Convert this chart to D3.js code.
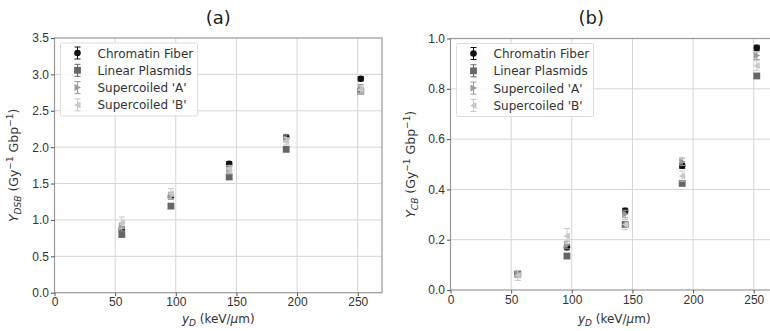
<!DOCTYPE html>
<html>
<head>
<meta charset="utf-8">
<script src="https://cdn.jsdelivr.net/npm/d3@7"></script>
<style>
  body { margin: 0; background: #fff; }
  svg { display: block; font-family: "DejaVu Sans", sans-serif; }
  .grid line { stroke: #d6d6d6; stroke-width: 1; }
  .tick text { fill: #333; font-size: 12px; }
  .tick line { stroke: #555; }
</style>
</head>
<body>
<svg id="chart" width="770" height="331"></svg>
<script>
// LET values (keV/um)
const yD = [55.5, 96, 144, 191, 252.5];

const seriesNames = ['Chromatin Fiber', 'Linear Plasmids', "Supercoiled 'A'", "Supercoiled 'B'"];

// panel (a): DSB yield
const dsbChromatin = [0.87, 1.32, 1.77, 2.14, 2.94];
const dsbLinear    = [0.80, 1.19, 1.59, 1.97, 2.77];
const dsbSupA      = [0.90, 1.33, 1.68, 2.12, 2.81];
const dsbSupB      = [0.96, 1.36, 1.70, 2.08, 2.79];
const dsbErrChromatin = [0.03, 0.03, 0.03, 0.03, 0.03];
const dsbErrLinear    = [0.03, 0.03, 0.03, 0.03, 0.03];
const dsbErrSupA      = [0.05, 0.05, 0.05, 0.05, 0.05];
const dsbErrSupB      = [0.08, 0.07, 0.05, 0.05, 0.05];

// panel (b): CB yield
const cbChromatin = [0.066, 0.170, 0.315, 0.494, 0.963];
const cbLinear    = [0.063, 0.135, 0.261, 0.424, 0.851];
const cbSupA      = [0.066, 0.179, 0.302, 0.510, 0.932];
const cbSupB      = [0.058, 0.215, 0.260, 0.453, 0.892];
const cbErrChromatin = [0.008, 0.01, 0.01, 0.01, 0.01];
const cbErrLinear    = [0.008, 0.01, 0.01, 0.01, 0.01];
const cbErrSupA      = [0.01, 0.015, 0.015, 0.015, 0.015];
const cbErrSupB      = [0.02, 0.03, 0.02, 0.02, 0.02];

const xTicks = [0, 50, 100, 150, 200, 250];
const dsbTicks = [0, 0.5, 1.0, 1.5, 2.0, 2.5, 3.0, 3.5];
const cbTicks = [0, 0.2, 0.4, 0.6, 0.8, 1.0];

const colors = ['#111111', '#666666', '#9a9a9a', '#c8c8c8'];
const shapes = ['circle', 'square', 'tri-right', 'tri-left'];

const svg = d3.select('#chart');

function marker(g, shape, x, y, color) {
  if (shape === 'circle') {
    g.append('circle').attr('cx', x).attr('cy', y).attr('r', 3.3).attr('fill', color);
  } else if (shape === 'square') {
    g.append('rect').attr('x', x - 3.4).attr('y', y - 3.4).attr('width', 6.8).attr('height', 6.8).attr('fill', color);
  } else {
    const s = shape === 'tri-right' ? 1 : -1;
    g.append('path')
      .attr('d', `M${x + 3.5 * s},${y} L${x - 3 * s},${y - 3.5} L${x - 3 * s},${y + 3.5} Z`)
      .attr('fill', color);
  }
}

function drawPanel(p) {
  const g = svg.append('g');
  const x = d3.scaleLinear().domain([0, 270]).range([p.left, p.left + 327.5]);
  const y = d3.scaleLinear().domain(p.yDomain).range([p.bottom, p.top]);

  // grid
  const grid = g.append('g').attr('class', 'grid');
  grid.selectAll('.gx').data(xTicks.slice(1)).join('line')
    .attr('x1', d => x(d)).attr('x2', d => x(d)).attr('y1', p.top).attr('y2', p.bottom);
  grid.selectAll('.gy').data(p.yTicks.slice(1, -1)).join('line')
    .attr('x1', p.left).attr('x2', x(270)).attr('y1', d => y(d)).attr('y2', d => y(d));

  // frame
  g.append('rect').attr('x', p.left).attr('y', p.top)
    .attr('width', x(270) - p.left).attr('height', p.bottom - p.top)
    .attr('fill', 'none').attr('stroke', '#999').attr('stroke-width', 1.2);

  // axes
  g.append('g').attr('transform', `translate(0,${p.bottom})`)
    .call(d3.axisBottom(x).tickValues(xTicks).tickSize(3.5).tickPadding(1.5).tickFormat(d3.format('d')))
    .call(a => a.select('.domain').remove());
  g.append('g').attr('transform', `translate(${p.left},0)`)
    .call(d3.axisLeft(y).tickValues(p.yTicks).tickSize(3.5).tickPadding(2).tickFormat(d3.format('.1f')))
    .call(a => a.select('.domain').remove());

  // data
  const marks = g.append('g');
  p.series.forEach((vals, si) => {
    const col = colors[si];
    vals.forEach((v, i) => {
      const e = p.errs[si][i];
      const cx = x(yD[i]);
      marks.append('line').attr('x1', cx).attr('x2', cx).attr('y1', y(v - e)).attr('y2', y(v + e))
        .attr('stroke', col).attr('stroke-width', 1);
      [v - e, v + e].forEach(t => marks.append('line')
        .attr('x1', cx - 3).attr('x2', cx + 3).attr('y1', y(t)).attr('y2', y(t))
        .attr('stroke', col).attr('stroke-width', 1));
      marker(marks, shapes[si], cx, y(v), col);
    });
  });

  // title
  g.append('text').attr('x', (p.left + x(270)) / 2 - (p.titleShift || 0)).attr('y', 24)
    .attr('text-anchor', 'middle').attr('font-size', 18).attr('fill', '#222').text(p.title);

  // x label
  const xl = g.append('text').attr('x', (p.left + x(270)) / 2).attr('y', 323)
    .attr('text-anchor', 'middle').attr('font-size', 12).attr('fill', '#333');
  xl.append('tspan').attr('font-style', 'italic').text('y');
  xl.append('tspan').attr('font-size', 9).attr('font-style', 'italic').attr('dy', 3).text('D');
  xl.append('tspan').attr('dy', -3).text(' (keV/');
  xl.append('tspan').attr('font-style', 'italic').text('µ');
  xl.append('tspan').text('m)');

  // y label
  const yl = g.append('text')
    .attr('transform', `translate(${p.left - p.ylOff},${(p.top + p.bottom) / 2}) rotate(-90)`)
    .attr('text-anchor', 'middle').attr('font-size', 12.5).attr('fill', '#333');
  yl.append('tspan').attr('font-style', 'italic').text('Y');
  yl.append('tspan').attr('font-size', 9).attr('font-style', 'italic').attr('dy', 3).text(p.sub);
  yl.append('tspan').attr('dy', -3).text(' (Gy');
  yl.append('tspan').attr('font-size', 9).attr('dy', -5).text('−1');
  yl.append('tspan').attr('dy', 5).text(' Gbp');
  yl.append('tspan').attr('font-size', 9).attr('dy', -5).text('−1');
  yl.append('tspan').attr('dy', 5).text(')');

  // legend
  const lg = g.append('g').attr('transform', `translate(${p.left + 6},${p.top + 5})`);
  lg.append('rect').attr('width', 137).attr('height', 73).attr('rx', 2)
    .attr('fill', '#fff').attr('fill-opacity', 0.85).attr('stroke', '#ddd');
  seriesNames.forEach((name, si) => {
    const ly = 10 + si * 17.3;
    const col = colors[si];
    lg.append('line').attr('x1', 17).attr('x2', 17).attr('y1', ly - 6).attr('y2', ly + 6).attr('stroke', col);
    [ly - 6, ly + 6].forEach(t => lg.append('line').attr('x1', 14).attr('x2', 20)
      .attr('y1', t).attr('y2', t).attr('stroke', col));
    marker(lg, shapes[si], 17, ly, col);
    lg.append('text').attr('x', 37).attr('y', ly + 4.5).attr('font-size', 12).attr('fill', '#333').text(name);
  });
}

drawPanel({
  left: 54.5, top: 38, bottom: 292.7, yDomain: [0, 3.5], yTicks: dsbTicks,
  title: '(a)', sub: 'DSB', ylOff: 37,
  series: [dsbChromatin, dsbLinear, dsbSupA, dsbSupB],
  errs: [dsbErrChromatin, dsbErrLinear, dsbErrSupA, dsbErrSupB]
});
drawPanel({
  left: 450.5, top: 38.5, bottom: 290, yDomain: [0, 1.0], yTicks: cbTicks,
  title: '(b)', sub: 'CB', titleShift: 23, ylOff: 36,
  series: [cbChromatin, cbLinear, cbSupA, cbSupB],
  errs: [cbErrChromatin, cbErrLinear, cbErrSupA, cbErrSupB]
});
</script>
</body>
</html>
